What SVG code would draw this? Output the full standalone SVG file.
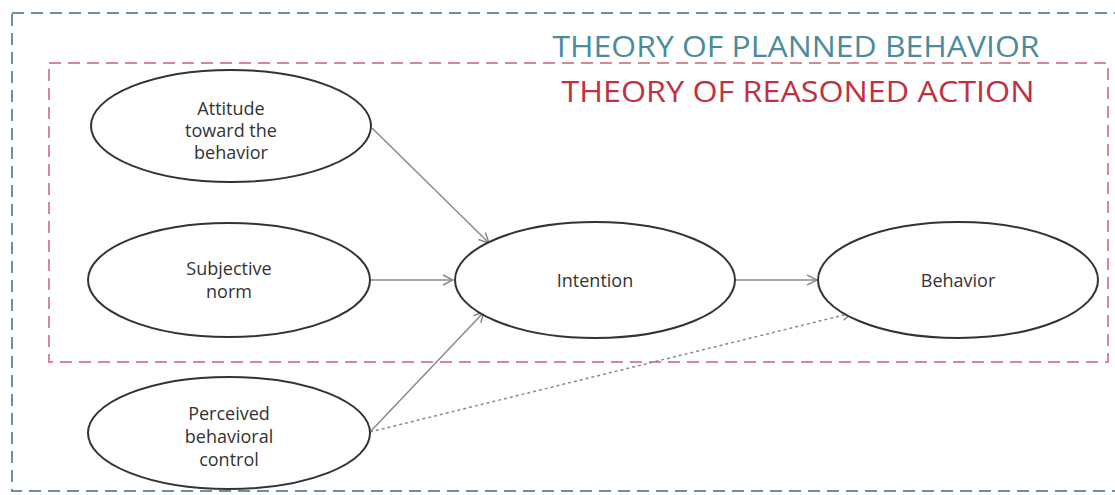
<svg xmlns="http://www.w3.org/2000/svg" width="1115" height="495" viewBox="0 0 1115 495">
<style>
.node ellipse{fill:#fff;stroke:#333;stroke-width:2}
.node text{font-family:"Open Sans","Liberation Sans",sans-serif;font-size:18px;fill:#333;text-anchor:middle}
.edge{stroke:#8a8a8a;stroke-width:1.5;fill:none;marker-end:url(#arr)}
.dot{stroke-dasharray:3 3}
.title{font-family:"Open Sans","Liberation Sans",sans-serif;font-size:29px;text-anchor:middle}
</style>
<defs>
<marker id="arr" viewBox="0 0 12 12" refX="11" refY="6" markerWidth="12" markerHeight="12" markerUnits="userSpaceOnUse" orient="auto">
<path d="M1,1 L11,6 L1,11" fill="none" stroke="#8a8a8a" stroke-width="1.5"/>
</marker>
</defs>
<rect width="1115" height="495" fill="#fff"/>
<g id="tpb">
<rect x="12" y="13" width="1115" height="478" fill="none" stroke="#6e8fa3" stroke-width="2" stroke-dasharray="12 7"/>
<text class="title" x="796" y="57" fill="#4b8b9d" textLength="487" lengthAdjust="spacingAndGlyphs">THEORY OF PLANNED BEHAVIOR</text>
</g>
<g id="tra">
<rect x="49" y="63" width="1059" height="299" fill="none" stroke="#d38a96" stroke-width="2" stroke-dasharray="12 7"/>
<text class="title" x="798" y="102" fill="#c23040" textLength="473" lengthAdjust="spacingAndGlyphs">THEORY OF REASONED ACTION</text>
</g>
<g id="connectors">
<line class="edge" x1="372" y1="128" x2="489" y2="243"/>
<line class="edge" x1="370" y1="280" x2="453" y2="280"/>
<line class="edge" x1="370" y1="432" x2="484" y2="312"/>
<line class="edge" x1="735" y1="280" x2="817" y2="280"/>
<line class="edge dot" x1="370" y1="432" x2="852" y2="313"/>
</g>
<g id="attitude" class="node">
<ellipse cx="231" cy="126" rx="140" ry="56"/>
<text x="231" y="115">Attitude</text>
<text x="231" y="137">toward the</text>
<text x="231" y="159">behavior</text>
</g>
<g id="subjective" class="node">
<ellipse cx="229" cy="280" rx="141" ry="57"/>
<text x="229" y="275">Subjective</text>
<text x="229" y="298">norm</text>
</g>
<g id="perceived" class="node">
<ellipse cx="229" cy="433" rx="141" ry="56"/>
<text x="229" y="420">Perceived</text>
<text x="229" y="443">behavioral</text>
<text x="229" y="466">control</text>
</g>
<g id="intention" class="node">
<ellipse cx="595" cy="280" rx="140" ry="58"/>
<text x="595" y="287">Intention</text>
</g>
<g id="behavior" class="node">
<ellipse cx="958" cy="280" rx="140" ry="58"/>
<text x="958" y="287">Behavior</text>
</g>
</svg>
